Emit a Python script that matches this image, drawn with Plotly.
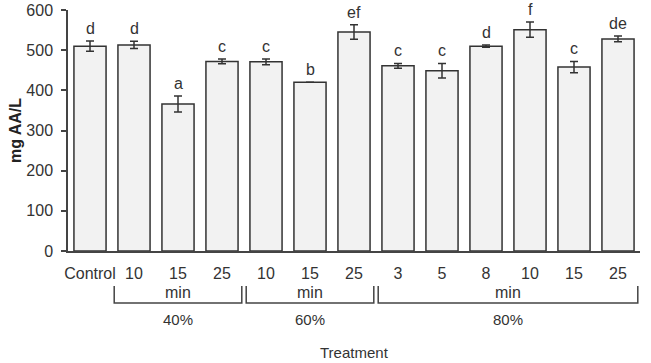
import plotly.graph_objects as go

treatments = ["Control", "10", "15", "25", "10", "15", "25", "3", "5", "8", "10", "15", "25"]
values = [510, 513, 366, 472, 471, 420, 545, 461, 449, 510, 551, 458, 528]
errors = [13, 9, 20, 6, 7, 0, 18, 6, 18, 3, 19, 14, 7]
letters = ["d", "d", "a", "c", "c", "b", "ef", "c", "c", "d", "f", "c", "de"]
groups = ["40%", "60%", "80%"]
group_first = [1, 4, 7]
group_last = [3, 6, 12]
y_ticks = [0, 100, 200, 300, 400, 500, 600]

FONT = "Liberation Sans, Arial, sans-serif"
TXT = "#333333"
x = list(range(len(values)))

fig = go.Figure()
fig.add_trace(go.Bar(
    x=x, y=values,
    marker=dict(color="#f2f2f2", line=dict(color="#333333", width=1.5)),
    width=0.73,
    error_y=dict(type="data", array=errors, visible=True, color="#333333", thickness=1.5, width=4),
    showlegend=False,
))

annotations = []
for i, (v, e, l) in enumerate(zip(values, errors, letters)):
    annotations.append(dict(x=i, y=v + e, xref="x", yref="y", text=l, showarrow=False,
                            yanchor="bottom", yshift=2, font=dict(size=16, color=TXT, family=FONT)))

shapes = []
for g, a, b in zip(groups, group_first, group_last):
    x0 = a - 0.45
    x1 = b + 0.45
    top, bot = -0.145, -0.216
    shapes.append(dict(type="path", xref="x", yref="paper",
                       path=f"M {x0} {top} L {x0} {bot} L {x1} {bot} L {x1} {top}",
                       line=dict(color="#444444", width=1.5)))
    xc = (x0 + x1) / 2
    annotations.append(dict(x=xc, y=-0.174, xref="x", yref="paper", text="min", showarrow=False,
                            yanchor="middle", font=dict(size=16, color=TXT, family=FONT)))
    annotations.append(dict(x=xc, y=-0.286, xref="x", yref="paper", text=g, showarrow=False,
                            yanchor="middle", font=dict(size=15, color=TXT, family=FONT)))

annotations.append(dict(x=0.5, y=-0.42, xref="paper", yref="paper", text="Treatment", showarrow=False,
                        yanchor="middle", font=dict(size=15, color=TXT, family=FONT)))

fig.update_layout(
    width=651, height=363,
    margin=dict(l=68, r=11, t=10, b=112, autoexpand=False),
    plot_bgcolor="white", paper_bgcolor="white",
    font=dict(family=FONT, size=16, color=TXT),
    annotations=annotations, shapes=shapes,
    bargap=0.27,
)
fig.update_xaxes(range=[-0.5, 12.5], tickvals=x, ticktext=treatments, showline=True,
                 linecolor="#444444", linewidth=1.5, ticks="", showgrid=False, zeroline=False,
                 automargin=False, ticklabelstandoff=7, tickfont=dict(size=16, color=TXT, family=FONT))
fig.update_yaxes(range=[0, 600], tickvals=y_ticks, showline=True, linecolor="#444444", linewidth=1.5,
                 ticks="outside", ticklen=5, tickcolor="#444444", tickwidth=1.5, showgrid=False,
                 zeroline=False, automargin=False, ticklabelstandoff=5,
                 tickfont=dict(size=16, color=TXT, family=FONT),
                 title=dict(text="<b>mg AA/L</b>", font=dict(size=16, color="#222222", family=FONT), standoff=1))

fig.write_html("out.html", config={"displayModeBar": False},
               post_script="document.body.style.margin='0';")
